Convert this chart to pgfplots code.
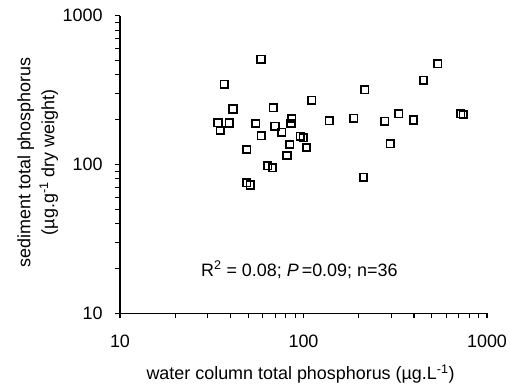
\documentclass[border=0pt]{standalone}
\usepackage{fontspec}
\setmainfont{Liberation Sans}
\usepackage{pgfplots}
\pgfplotsset{compat=1.18}
\newcommand{\tl}[1]{\mbox{\fontsize{18}{21}\selectfont #1}}
\begin{document}
\begin{tikzpicture}
\useasboundingbox (-120bp,-71.7bp) rectangle (390bp,297.6bp+15.7bp);
\begin{axis}[
  at={(0,0)}, anchor=south west,
  scale only axis, width=367bp, height=297.6bp,
  xmode=log, ymode=log,
  xmin=10, xmax=1000, ymin=10, ymax=1000,
  axis x line=bottom, axis y line=left,
  axis line style={line width=1.3bp, -},
  tick align=outside,
  major tick length=5bp, minor tick length=5bp,
  every tick/.style={line width=1.1bp, black},
  xtick={10,100,1000}, ytick={10,100,1000},
  xticklabels={\tl{10},\tl{100},\tl{1000}}, yticklabels={\tl{10},\tl{100},\tl{1000}},
  minor xtick={20,30,40,50,60,70,80,90,200,300,400,500,600,700,800,900},
  minor ytick={20,30,40,50,60,70,80,90,200,300,400,500,600,700,800,900},
  tick label style={font=\fontsize{18}{21}\selectfont, inner sep=0pt},
  xticklabel shift=16.7bp, yticklabel shift=12.3bp,
  label style={font=\fontsize{18}{24}\selectfont},
  xlabel={water column total phosphorus (µg.L\textsuperscript{-1})},
  ylabel={sediment total phosphorus\\(µg.g\textsuperscript{-1} dry weight)},
  xlabel style={at={(axis description cs:0.492,-0.224)}, anchor=base},
  ylabel style={align=center, at={(axis description cs:-0.224,0.507)}, anchor=center},
  clip=false,
]
\addplot[only marks, mark=square, mark size=3.7bp, mark options={line width=1.7bp, black}] coordinates {
(58.7,509) (37.0,347) (110.9,271) (41.3,236) (68.5,241) (34.2,191)
(39.4,190) (35.1,169) (54.9,189) (69.9,181) (86.2,204) (85.5,189)
(58.9,156) (76.1,165) (96.1,155) (99.8,151) (104,130) (84.1,136)
(49.0,126) (81.3,115) (63.8,98.2) (67.9,95.1) (49.0,75.5) (51.3,72.8)
(540,474) (450,368) (216,318) (138,197) (188,205) (277,195)
(331,219) (397,199) (719,219) (743,217) (297,138) (212,82.0)
};
\node[anchor=base west, font=\fontsize{18}{21}\selectfont, inner sep=0pt] at (axis cs:27.6,17.8) {R\textsuperscript{2} = 0.08; \textit{P}\,=0.09; n=36};
\end{axis}
\end{tikzpicture}
\end{document}
